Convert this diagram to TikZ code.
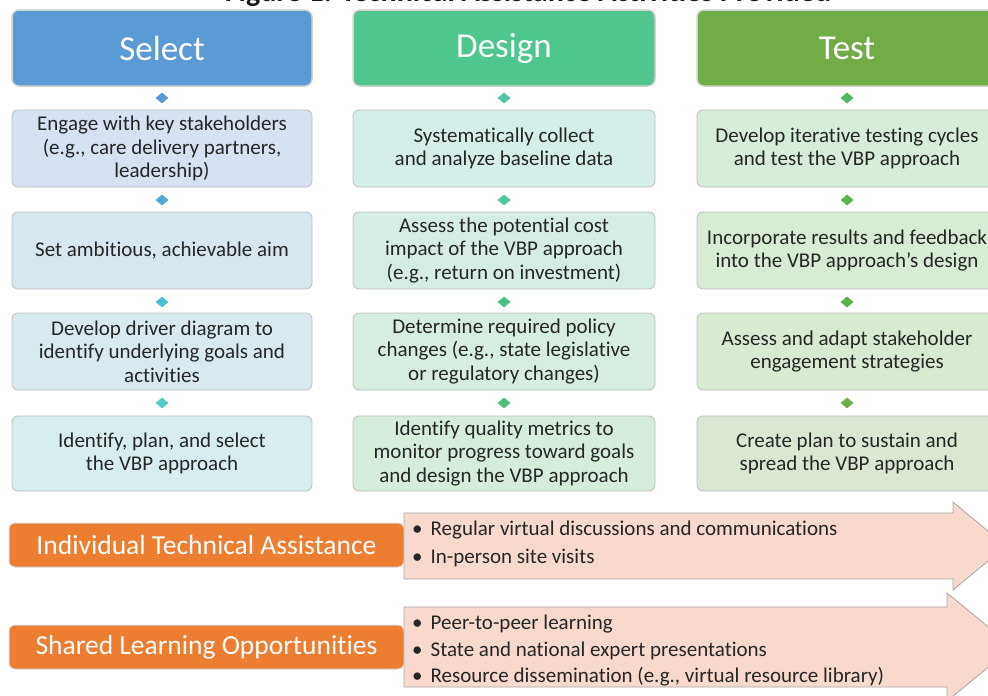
\documentclass[tikz,border=0pt]{standalone}
\usepackage{fontspec}
\setmainfont{Carlito}[Ligatures=NoCommon]
\usetikzlibrary{shapes.geometric}
\definecolor{selhead}{HTML}{5B9BD5}
\definecolor{deshead}{HTML}{4EC68E}
\definecolor{tsthead}{HTML}{70AD47}
\definecolor{sA}{HTML}{D6E2F2}
\definecolor{sB}{HTML}{D7E6EF}
\definecolor{sC}{HTML}{D8EAF0}
\definecolor{sD}{HTML}{D8EDF0}
\definecolor{dA}{HTML}{D5EEEA}
\definecolor{dB}{HTML}{D5EDE4}
\definecolor{dC}{HTML}{D6EDDF}
\definecolor{dD}{HTML}{D6EDDB}
\definecolor{tA}{HTML}{D7ECD9}
\definecolor{tB}{HTML}{D8EBD4}
\definecolor{tC}{HTML}{D9EAD3}
\definecolor{tD}{HTML}{DAE8D3}
\definecolor{sdA}{HTML}{5B9BD5}
\definecolor{sdB}{HTML}{4BA8D8}
\definecolor{sdC}{HTML}{4CBFD3}
\definecolor{sdD}{HTML}{52CBC8}
\definecolor{ddA}{HTML}{4FC6A8}
\definecolor{ddB}{HTML}{4DC89A}
\definecolor{ddC}{HTML}{47C285}
\definecolor{ddD}{HTML}{4CC07A}
\definecolor{tdA}{HTML}{4DBB5E}
\definecolor{tdB}{HTML}{55B34E}
\definecolor{tdC}{HTML}{5CB04C}
\definecolor{tdD}{HTML}{6BAE4B}
\definecolor{orng}{HTML}{ED7D31}
\definecolor{pinkfill}{HTML}{F8D9CE}
\definecolor{txt}{HTML}{262626}
\tikzset{
  head/.style={draw=black!18, line width=1.5pt, rounded corners=7pt, minimum height=76pt, inner sep=0pt, text=white, font=\fontsize{35}{40}\selectfont},
  stepbox/.style={draw=black!25, line width=0.8pt, rounded corners=6pt, minimum height=77pt, inner sep=0pt, align=center, text=txt, font=\fontsize{21}{23.5}\selectfont},
  dia/.style={diamond, minimum width=13pt, minimum height=11pt, inner sep=0pt, draw=none},
  obox/.style={fill=orng, draw=black!15, line width=1pt, rounded corners=6pt, minimum width=395pt, minimum height=44pt, inner sep=0pt, text=white, font=\fontsize{27.5}{30}\selectfont},
  bullet/.style={anchor=base west, inner sep=0pt, text=txt, font=\fontsize{21}{24}\selectfont},
  bigarrow/.style={fill=pinkfill, draw=black!35, line width=0.8pt}
}
\begin{document}
\begin{tikzpicture}[x=1pt,y=-1pt]
\useasboundingbox (0,0) rectangle (988,696);
\fill[white] (0,0) rectangle (988,696);
% title (cut off at top)
\node[anchor=base, inner sep=0pt, text=black!90, font=\bfseries\fontsize{30}{34}\selectfont] (title) at (528,1.5) {Figure 1. Technical Assistance Activities Provided};
% headers
\node[head, fill=selhead, minimum width=300pt] (hs) at (162,48) {Select};
\node[head, fill=deshead, minimum width=302pt] (hd) at (504,48) {Design};
\node[head, fill=tsthead, minimum width=300pt] (ht) at (847,48) {Test};
% diamonds
\node[dia, fill=sdA] (s0) at (162,98) {};
\node[dia, fill=sdB] (s1) at (162,200) {};
\node[dia, fill=sdC] (s2) at (162,302) {};
\node[dia, fill=sdD] (s3) at (162,403) {};
\node[dia, fill=ddA] (d0) at (504,98) {};
\node[dia, fill=ddB] (d1) at (504,200) {};
\node[dia, fill=ddC] (d2) at (504,302) {};
\node[dia, fill=ddD] (d3) at (504,403) {};
\node[dia, fill=tdA] (t0) at (847,98) {};
\node[dia, fill=tdB] (t1) at (847,200) {};
\node[dia, fill=tdC] (t2) at (847,302) {};
\node[dia, fill=tdD] (t3) at (847,403) {};
% Select column
\node[stepbox, fill=sA, minimum width=300pt] (sa) at (162,148.5) {Engage with key stakeholders\\(e.g., care delivery partners,\\leadership)};
\node[stepbox, fill=sB, minimum width=300pt] (sb) at (162,250.5) {Set ambitious, achievable aim};
\node[stepbox, fill=sC, minimum width=300pt] (sc) at (162,351.5) {Develop driver diagram to\\identify underlying goals and\\activities};
\node[stepbox, fill=sD, minimum width=300pt, minimum height=75pt] (sd) at (162,453.5) {Identify, plan, and select\\the VBP approach};
% Design column
\node[stepbox, fill=dA, minimum width=302pt] (da) at (504,148.5) {Systematically collect\\and analyze baseline data};
\node[stepbox, fill=dB, minimum width=302pt] (db) at (504,250.5) {Assess the potential cost\\impact of the VBP approach\\(e.g., return on investment)};
\node[stepbox, fill=dC, minimum width=302pt] (dc) at (504,351.5) {Determine required policy\\changes (e.g., state legislative\\or regulatory changes)};
\node[stepbox, fill=dD, minimum width=302pt, minimum height=75pt] (dd) at (504,453.5) {Identify quality metrics to\\monitor progress toward goals\\and design the VBP approach};
% Test column
\node[stepbox, fill=tA, minimum width=300pt] (ta) at (847,148.5) {Develop iterative testing cycles\\and test the VBP approach};
\node[stepbox, fill=tB, minimum width=300pt] (tb) at (847,250.5) {Incorporate results and feedback\\into the VBP approach’s design};
\node[stepbox, fill=tC, minimum width=300pt] (tc) at (847,351.5) {Assess and adapt stakeholder\\engagement strategies};
\node[stepbox, fill=tD, minimum width=300pt, minimum height=75pt] (td) at (847,453.5) {Create plan to sustain and\\spread the VBP approach};
% big arrows
\draw[bigarrow] (404,513) -- (953,513) -- (953,502) -- (1006,546) -- (953,590) -- (953,579) -- (404,579) -- cycle;
\draw[bigarrow] (404,607) -- (947,607) -- (947,593) -- (1013,647) -- (947,701) -- (947,687) -- (404,687) -- cycle;
% orange boxes
\node[obox] (ita) at (206.5,545) {Individual Technical Assistance};
\node[obox] (slo) at (206.5,647) {Shared Learning Opportunities};
% bullets
\node[bullet] (b1) at (412,535) {•\hspace{8pt}Regular virtual discussions and communications};
\node[bullet] (b2) at (412,563) {•\hspace{8pt}In-person site visits};
\node[bullet] (b3) at (412,629) {•\hspace{8pt}Peer-to-peer learning};
\node[bullet] (b4) at (412,656) {•\hspace{8pt}State and national expert presentations};
\node[bullet] (b5) at (412,682) {•\hspace{8pt}Resource dissemination (e.g., virtual resource library)};
\end{tikzpicture}
\end{document}
